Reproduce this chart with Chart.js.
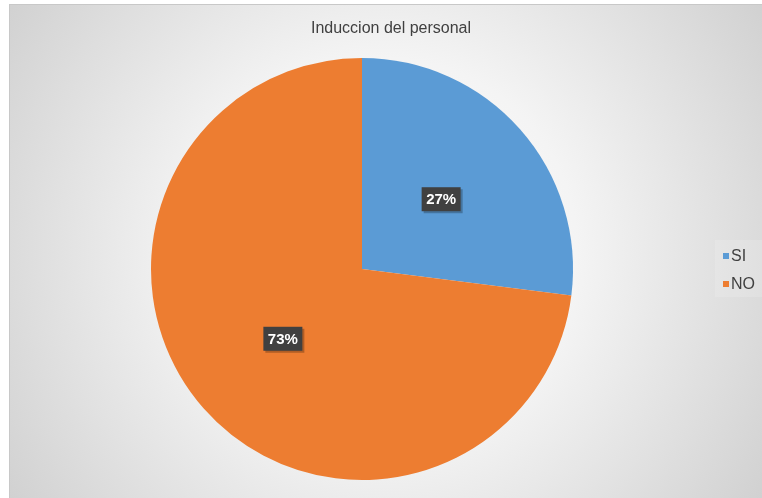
<!DOCTYPE html>
<html>
<head>
<meta charset="utf-8">
<style>
html,body{margin:0;padding:0;background:#fff;}
#wrap{width:762px;height:498px;position:relative;}
</style>
<script src="https://cdn.jsdelivr.net/npm/chart.js@4/dist/chart.umd.min.js"></script>
</head>
<body>
<div id="wrap"><canvas id="c" width="762" height="498"></canvas></div>
<script>
const chartTitle = "Induccion del personal";
const categories = ["SI", "NO"];
const values = [27, 73];
const colors = ["#5B9BD5", "#ED7D31"];

const bgPlugin = {
  id: 'bg',
  beforeDraw(chart) {
    const ctx = chart.ctx;
    ctx.save();
    ctx.fillStyle = '#ffffff';
    ctx.fillRect(0, 0, chart.width, chart.height);
    const g = ctx.createRadialGradient(385, 250, 0, 385, 250, 480);
    g.addColorStop(0, '#ffffff');
    g.addColorStop(0.4, '#f4f4f4');
    g.addColorStop(1, '#cdcdcd');
    ctx.fillStyle = g;
    ctx.fillRect(9, 4, chart.width - 9, chart.height - 4);
    ctx.strokeStyle = '#c8c8c8';
    ctx.lineWidth = 1;
    ctx.strokeRect(9.5, 4.5, chart.width, chart.height);
    // title
    ctx.fillStyle = '#404040';
    ctx.font = '16px "Liberation Sans", Arial, sans-serif';
    ctx.textAlign = 'center';
    ctx.textBaseline = 'middle';
    ctx.fillText(chartTitle, 391, 29);
    // legend
    ctx.fillStyle = 'rgba(255,255,255,0.15)';
    ctx.fillRect(715, 240, 47, 57);
    ctx.font = '16px "Liberation Sans", Arial, sans-serif';
    ctx.textAlign = 'left';
    chart.data.labels.forEach((lab, i) => {
      const y = 256 + i * 28;
      ctx.fillStyle = chart.data.datasets[0].backgroundColor[i];
      ctx.fillRect(723, y - 3, 6, 6);
      ctx.fillStyle = '#404040';
      ctx.fillText(lab, 731, y + 1);
    });
    ctx.restore();
  }
};

const labelPlugin = {
  id: 'lbl',
  afterDatasetsDraw(chart) {
    const ctx = chart.ctx;
    const meta = chart.getDatasetMeta(0);
    const data = chart.data.datasets[0].data;
    const total = data.reduce((a, b) => a + b, 0);
    ctx.save();
    meta.data.forEach((arc, i) => {
      const p = arc.getProps(['x', 'y', 'startAngle', 'endAngle', 'outerRadius'], true);
      const mid = (p.startAngle + p.endAngle) / 2;
      const r = p.outerRadius * 0.5;
      const x = p.x + Math.cos(mid) * r;
      const y = p.y + Math.sin(mid) * r;
      const txt = Math.round(data[i] / total * 100) + '%';
      const w = 39, h = 24;
      ctx.fillStyle = 'rgba(0,0,0,0.25)';
      ctx.fillRect(x - w / 2 + 2, y - h / 2 + 2, w, h);
      ctx.fillStyle = '#404040';
      ctx.fillRect(x - w / 2, y - h / 2, w, h);
      ctx.fillStyle = '#ffffff';
      ctx.font = 'bold 15px "Liberation Sans", Arial, sans-serif';
      ctx.textAlign = 'center';
      ctx.textBaseline = 'middle';
      ctx.fillText(txt, x, y + 1);
    });
    ctx.restore();
  }
};

new Chart(document.getElementById('c'), {
  type: 'pie',
  data: {
    labels: categories,
    datasets: [{
      data: values,
      backgroundColor: colors,
      borderWidth: 0
    }]
  },
  options: {
    responsive: false,
    animation: false,
    layout: { padding: { left: 151, right: 189, top: 58, bottom: 18 } },
    plugins: {
      legend: { display: false },
      title: { display: false },
      tooltip: { enabled: false }
    }
  },
  plugins: [bgPlugin, labelPlugin]
});
</script>
</body>
</html>
